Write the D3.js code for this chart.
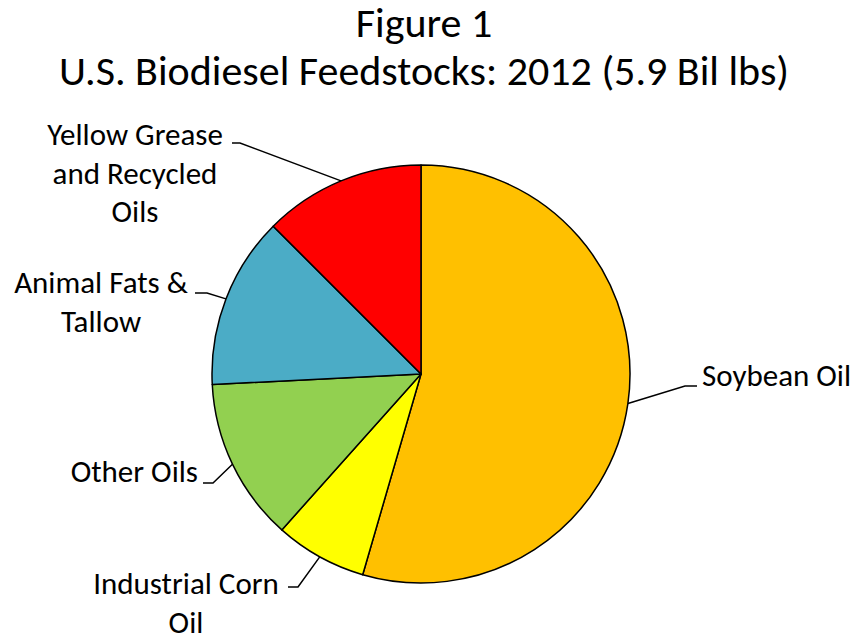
<!DOCTYPE html>
<html>
<head>
<meta charset="utf-8">
<script src="https://cdn.jsdelivr.net/npm/d3@7"></script>
<style>
  html, body { margin: 0; padding: 0; background: #fff; }
  svg text { font-family: Carlito, Calibri, Lato, sans-serif; fill: #000; }
</style>
</head>
<body>
<svg id="chart" width="858" height="638"></svg>
<script>
// feedstock shares, % of 5.9 bil lbs
var categories = ['Soybean Oil', 'Industrial Corn Oil', 'Other Oils', 'Animal Fats & Tallow', 'Yellow Grease and Recycled Oils'];
var shares = [54.5, 7.1, 12.6, 13.3, 12.5];
var labelLines = [
  ['Soybean Oil'],
  ['Industrial Corn', 'Oil'],
  ['Other Oils'],
  ['Animal Fats &', 'Tallow'],
  ['Yellow Grease', 'and Recycled', 'Oils']
];
var colors = ['#FFC000', '#FFFF00', '#92D050', '#4BACC6', '#FF0000'];
var titleLines = ['Figure 1', 'U.S. Biodiesel Feedstocks: 2012 (5.9 Bil lbs)'];

// label placement (elbow of leader, end of leader, text anchor)
var labelPos = [
  { elbow: [685, 386], end: [697, 386], anchor: 'start',  tx: 702, ty: 386 },
  { elbow: [298, 587], end: [288, 587], anchor: 'middle', tx: 186, ty: 594 },
  { elbow: [213, 483], end: [203, 483], anchor: 'end',    tx: 198, ty: 482 },
  { elbow: [207, 293], end: [195, 293], anchor: 'middle', tx: 101, ty: 293 },
  { elbow: [240, 143], end: [232, 143], anchor: 'middle', tx: 135, ty: 145 }
];

var svg = d3.select('#chart');
var cx = 421, cy = 374, r = 209;

svg.append('g').selectAll('text')
  .data(titleLines)
  .enter().append('text')
    .attr('x', 424)
    .attr('y', function(d, i) { return 37 + i * 48; })
    .attr('text-anchor', 'middle')
    .style('font-size', '42px')
    .text(function(d) { return d; });

var data = categories.map(function(c, i) {
  return { name: c, value: shares[i], color: colors[i], lines: labelLines[i], pos: labelPos[i] };
});

var pie = d3.pie().sort(null).value(function(d) { return d.value; });
var arc = d3.arc().innerRadius(0).outerRadius(r);
var arcs = pie(data);

var g = svg.append('g').attr('transform', 'translate(' + cx + ',' + cy + ')');

g.selectAll('path.slice')
  .data(arcs)
  .enter().append('path')
    .attr('class', 'slice')
    .attr('d', arc)
    .attr('fill', function(d) { return d.data.color; })
    .attr('stroke', '#000')
    .attr('stroke-width', 1.5)
    .attr('stroke-linejoin', 'round');

// leader lines from the middle of each slice edge
svg.append('g').selectAll('polyline')
  .data(arcs)
  .enter().append('polyline')
    .attr('fill', 'none')
    .attr('stroke', '#000')
    .attr('stroke-width', 1.5)
    .attr('points', function(d) {
      var a = (d.startAngle + d.endAngle) / 2;
      var sx = cx + r * Math.sin(a), sy = cy - r * Math.cos(a);
      var p = d.data.pos;
      return [[sx, sy], p.elbow, p.end].map(function(q) { return q.join(','); }).join(' ');
    });

var labels = svg.append('g').selectAll('text.label')
  .data(arcs)
  .enter().append('text')
    .attr('class', 'label')
    .attr('text-anchor', function(d) { return d.data.pos.anchor; })
    .style('font-size', '31px');

labels.selectAll('tspan')
  .data(function(d) { return d.data.lines.map(function(l) { return { t: l, p: d.data.pos }; }); })
  .enter().append('tspan')
    .attr('x', function(d) { return d.p.tx; })
    .attr('y', function(d, i) { return d.p.ty + i * 38.5; })
    .text(function(d) { return d.t; });
</script>
</body>
</html>
